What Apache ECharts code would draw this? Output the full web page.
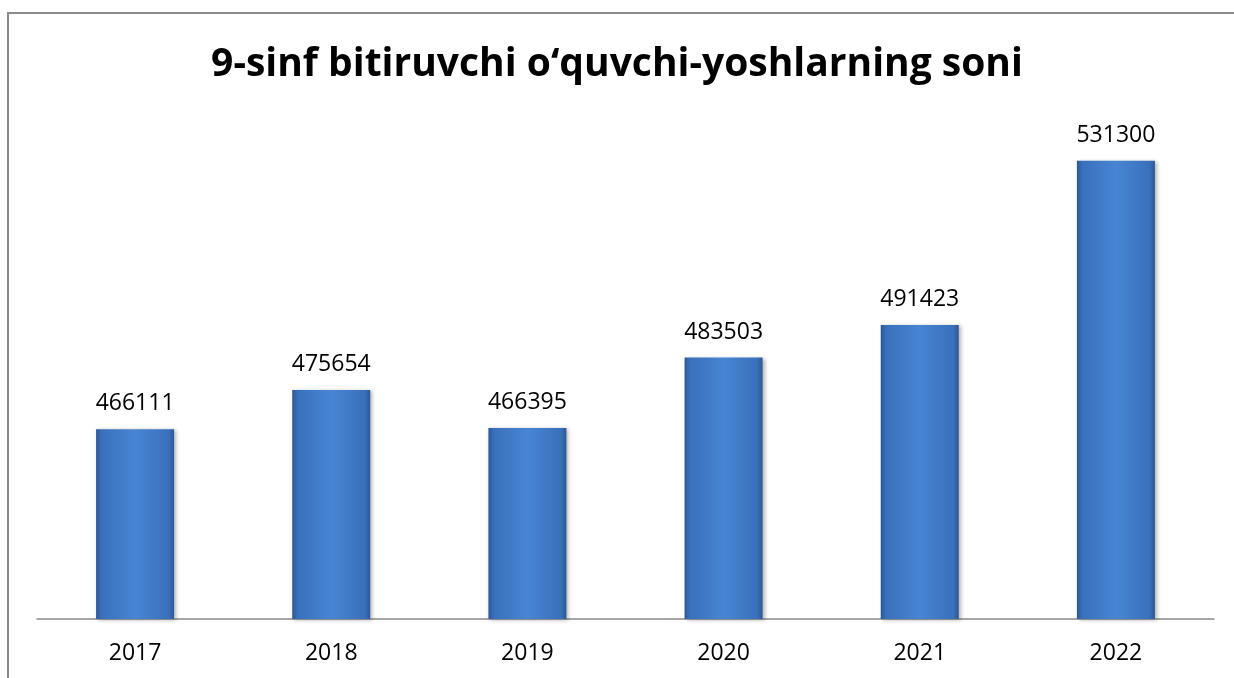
<!DOCTYPE html>
<html>
<head>
<meta charset="utf-8">
<script src="https://cdn.jsdelivr.net/npm/echarts@6/dist/echarts.min.js"></script>
<style>
  html, body { margin: 0; padding: 0; background: #fff; }
  #frame {
    position: absolute; left: 7px; top: 12px; right: 0; bottom: 0;
    border-left: 2px solid #8a8a8a; border-top: 2px solid #8a8a8a;
  }
  #main { position: absolute; left: 0; top: 0; width: 1234px; height: 678px; }
</style>
</head>
<body>
<div id="frame"></div>
<div id="main"></div>
<script>
// ma'lumotlar
var years = ['2017', '2018', '2019', '2020', '2021', '2022'];
var pupils = [466111, 475654, 466395, 483503, 491423, 531300];

var myChart = echarts.init(document.getElementById('main'));

var barColor = new echarts.graphic.LinearGradient(0, 0, 1, 0, [
    { offset: 0, color: '#2c5894' },
    { offset: 0.07, color: '#3a70bb' },
    { offset: 0.5, color: '#4785d4' },
    { offset: 0.93, color: '#3a70bb' },
    { offset: 1, color: '#2c5894' }
]);

var option = {
    backgroundColor: 'transparent',
    animation: false,
    title: {
        text: '9-sinf bitiruvchi o‘quvchi-yoshlarning soni',
        left: 'center',
        top: 40,
        textStyle: {
            fontFamily: 'Open Sans',
            fontWeight: 'bold',
            fontSize: 39,
            color: '#000'
        }
    },
    grid: { left: 37, right: 20, top: 125, bottom: 59 },
    xAxis: {
        type: 'category',
        data: years,
        axisLine: { lineStyle: { color: '#8a8a8a', width: 1.5 } },
        axisTick: { show: false },
        axisLabel: {
            margin: 23,
            fontFamily: 'Open Sans',
            fontSize: 23,
            color: '#000'
        }
    },
    yAxis: {
        type: 'value',
        show: false,
        min: 420000,
        max: 540000,
        interval: 20000,
        splitLine: { show: false }
    },
    series: [{
        type: 'bar',
        data: pupils,
        barWidth: 78,
        itemStyle: {
            color: barColor,
            shadowColor: 'rgba(0,0,0,0.3)',
            shadowBlur: 4,
            shadowOffsetX: 2,
            shadowOffsetY: 1
        },
        label: {
            show: true,
            position: 'top',
            distance: 14,
            fontFamily: 'Open Sans',
            fontSize: 23,
            color: '#000'
        }
    }]
};

if (option && typeof option === 'object') {
    myChart.setOption(option);
}
</script>
</body>
</html>
